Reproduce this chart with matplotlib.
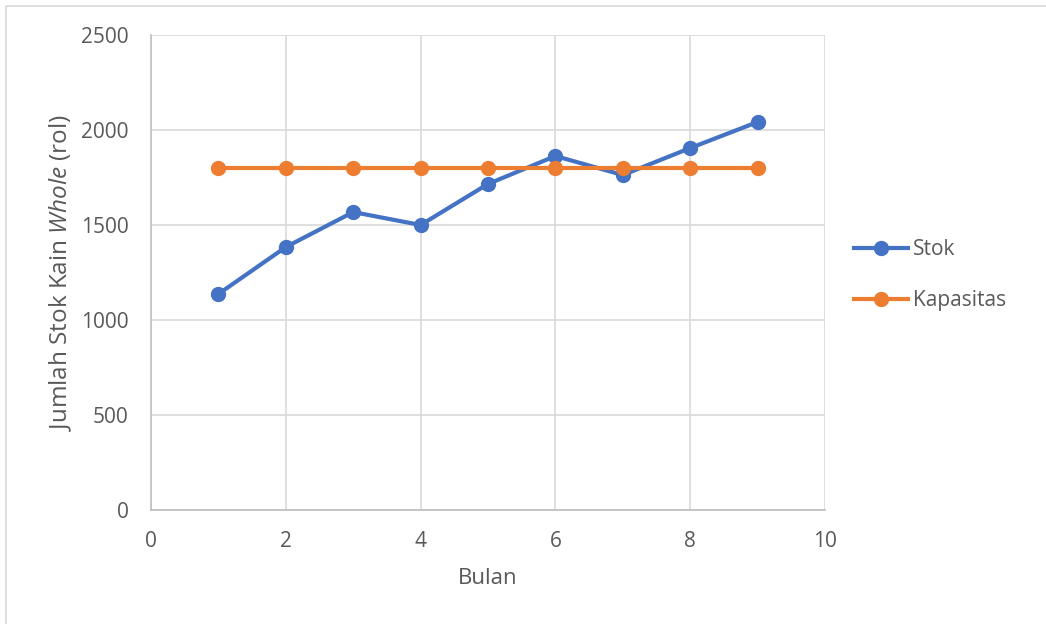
import matplotlib.pyplot as plt
from matplotlib.lines import Line2D
from matplotlib.patches import Rectangle

plt.rcParams['font.family'] = ['Open Sans', 'DejaVu Sans']
plt.rcParams['mathtext.fontset'] = 'custom'
plt.rcParams['mathtext.it'] = 'Open Sans:italic'
plt.rcParams['mathtext.rm'] = 'Open Sans'

bulan = [1, 2, 3, 4, 5, 6, 7, 8, 9]
stok = [1137, 1384, 1568, 1500, 1716, 1863, 1763, 1905, 2042]
kapasitas = [1800, 1800, 1800, 1800, 1800, 1800, 1800, 1800, 1800]

biru = '#4472c4'
oranye = '#ed7d31'
teks = '#595959'
grid = '#d9d9d9'

fig = plt.figure(figsize=(10.46, 6.24), dpi=100)
ax = fig.add_axes([0.1444, 0.1827, 0.6443, 0.7612])

# garis tepi chart (hanya kiri dan atas yang tampak)
fig.patches.append(Rectangle((0.006, -0.05), 1.1, 1.041, transform=fig.transFigure,
                             fill=False, edgecolor='#d9d9d9', linewidth=1.2))

ax.plot(bulan, stok, color=biru, linewidth=3, marker='o', markersize=10, label='Stok', zorder=3)
ax.plot(bulan, kapasitas, color=oranye, linewidth=3, marker='o', markersize=10, label='Kapasitas', zorder=4)

ax.set_xlim(0, 10)
ax.set_ylim(0, 2500)
ax.set_xticks(range(0, 11, 2))
ax.set_yticks(range(0, 2501, 500))
ax.grid(True, color=grid, linewidth=1.2)
ax.set_axisbelow(True)
for s in ['top', 'right']:
    ax.spines[s].set_visible(False)
for s in ['left', 'bottom']:
    ax.spines[s].set_color('#bfbfbf')
    ax.spines[s].set_linewidth(1.2)
ax.tick_params(length=0, labelsize=15, colors=teks)
ax.tick_params(axis='x', pad=15)
ax.tick_params(axis='y', pad=16)

ax.set_xlabel('Bulan', fontsize=16, color=teks, labelpad=12)
ax.set_ylabel(r'Jumlah Stok Kain $\mathit{Whole}$ (rol)', fontsize=17.5, color=teks, labelpad=5)

handles = [Line2D([], [], color=biru, linewidth=3, marker='o', markersize=10),
           Line2D([], [], color=oranye, linewidth=3, marker='o', markersize=10)]
ax.legend(handles, ['Stok', 'Kapasitas'], loc='center left', bbox_to_anchor=(1.015, 0.4947),
          frameon=False, fontsize=15, labelcolor=teks, handlelength=2.6,
          handletextpad=0.25, labelspacing=1.45)

fig.savefig('out.png', dpi=100)
